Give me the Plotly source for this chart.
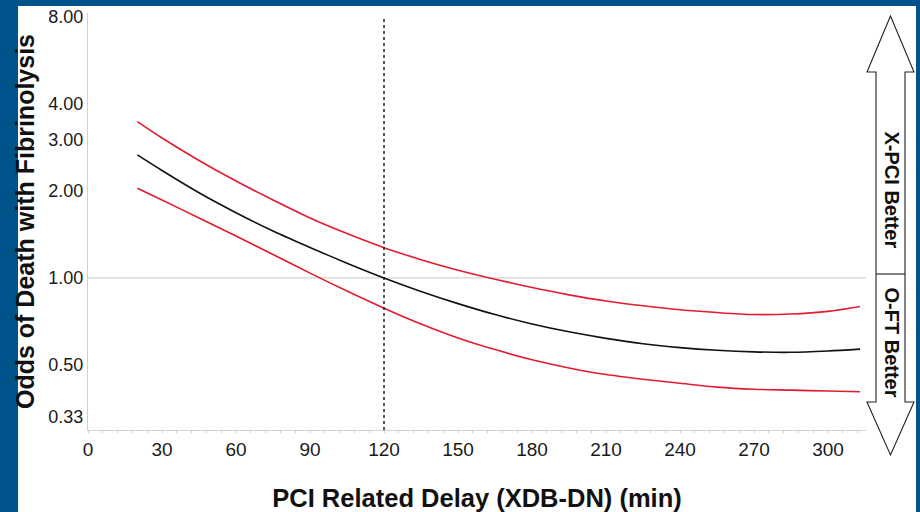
import math
import plotly.graph_objects as go

# ---- data ----
delay_min = [20, 30, 45, 60, 75, 90, 105, 120, 135, 150, 165, 180, 195, 210,
             225, 240, 255, 270, 285, 300, 313]
odds_est = [2.665, 2.354, 1.972, 1.682, 1.454, 1.275, 1.125, 1.00, 0.898, 0.815,
            0.747, 0.693, 0.651, 0.618, 0.592, 0.574, 0.562, 0.555, 0.553,
            0.559, 0.567]
odds_upper = [3.475, 3.05, 2.551, 2.165, 1.86, 1.613, 1.424, 1.273, 1.157, 1.064,
              0.99, 0.927, 0.874, 0.832, 0.801, 0.776, 0.759, 0.747, 0.750,
              0.766, 0.796]
odds_lower = [2.044, 1.86, 1.613, 1.397, 1.206, 1.039, 0.901, 0.786, 0.693, 0.620,
              0.565, 0.521, 0.488, 0.463, 0.446, 0.432, 0.419, 0.412, 0.409,
              0.406, 0.404]
reference_delay = 120
x_ticks = [0, 30, 60, 90, 120, 150, 180, 210, 240, 270, 300]
y_ticks = [0.33, 0.5, 1.0, 2.0, 3.0, 4.0, 8.0]
y_ticklabels = ["0.33", "0.50", "1.00", "2.00", "3.00", "4.00", "8.00"]
x_range = [0, 315.4]
y_range = [0.2977, 8.26]

# ---- layout geometry (pixels) ----
W, H = 920, 512
ML, MR, MT, MB = 88, 54, 13, 82
PW, PH = W - ML - MR, H - MT - MB


def px(x):
    return (x - ML) / PW


def py(y):
    return (H - MB - y) / PH


FONT = "Arial, Liberation Sans, sans-serif"
RED = "#E31B2F"
BLUE = "#00538A"

fig = go.Figure()

# reference line at odds = 1
fig.add_trace(go.Scatter(x=x_range, y=[1, 1], mode="lines",
                         line=dict(color="#d4d4d4", width=1.2),
                         hoverinfo="skip", showlegend=False))

for ys, col in ((odds_upper, RED), (odds_lower, RED), (odds_est, "#111111")):
    fig.add_trace(go.Scatter(x=delay_min, y=ys, mode="lines",
                             line=dict(color=col, width=1.6, shape="spline",
                                       smoothing=0.8),
                             showlegend=False))

shapes = []
# white panel over blue frame
shapes.append(dict(type="rect", xref="paper", yref="paper", layer="below",
                   x0=px(18), x1=px(916), y0=py(6), y1=py(H + 5),
                   fillcolor="white", line=dict(width=0)))
# vertical dashed line at 120 min
shapes.append(dict(type="line", xref="x", yref="paper",
                   x0=reference_delay, x1=reference_delay, y0=0, y1=py(17),
                   line=dict(color="#111111", width=1.4, dash="3px,3px")))

# double-headed arrow on the right
cx = 890.5
hl, hr = 867, 914
sl, sr = 876, 905
top, hb_top, hb_bot, bot = 16, 72, 402, 455
pts = [(cx, top), (hr, hb_top), (sr, hb_top), (sr, hb_bot), (hr, hb_bot),
       (cx, bot), (hl, hb_bot), (sl, hb_bot), (sl, hb_top), (hl, hb_top)]
path = "M " + " L ".join(f"{px(a):.5f},{py(b):.5f}" for a, b in pts) + " Z"
shapes.append(dict(type="path", xref="paper", yref="paper", path=path,
                   fillcolor="white", line=dict(color="#222222", width=1.1)))
shapes.append(dict(type="line", xref="paper", yref="paper",
                   x0=px(sl), x1=px(sr), y0=py(274), y1=py(274),
                   line=dict(color="#222222", width=1.1)))

annotations = [
    dict(text="<b>X-PCI Better</b>", xref="paper", yref="paper",
         x=px(cx + 1), y=py(190), xanchor="center", yanchor="middle",
         textangle=90, showarrow=False,
         font=dict(family=FONT, size=20, color="#111111")),
    dict(text="<b>O-FT Better</b>", xref="paper", yref="paper",
         x=px(cx + 1), y=py(343), xanchor="center", yanchor="middle",
         textangle=90, showarrow=False,
         font=dict(family=FONT, size=20, color="#111111")),
]

fig.update_layout(
    width=W, height=H,
    margin=dict(l=ML, r=MR, t=MT, b=MB, pad=0, autoexpand=False),
    paper_bgcolor=BLUE, plot_bgcolor="white",
    shapes=shapes, annotations=annotations,
    font=dict(family=FONT, color="#1a1a1a"),
    xaxis=dict(range=x_range, tickvals=x_ticks, showgrid=False, zeroline=False,
               automargin=False,
               showline=True, linecolor="#d0d0d0", linewidth=1,
               ticks="", tickfont=dict(size=19, color="#1a1a1a"),
               ticklabelstandoff=2,
               minor=dict(ticks="outside", ticklen=2, dtick=6, tickcolor="#cfcfcf"),
               title=dict(text="<b>PCI Related Delay (XDB-DN) (min)</b>",
                          font=dict(size=25.5, color="#111111"), standoff=31)),
    yaxis=dict(type="log", range=[math.log10(v) for v in y_range],
               automargin=False,
               tickvals=y_ticks, ticktext=y_ticklabels, showgrid=False,
               zeroline=False, showline=True, linecolor="#d0d0d0", linewidth=1,
               ticks="", tickfont=dict(size=18, color="#1a1a1a"),
               title=dict(text="<b>Odds of Death with Fibrinolysis</b>",
                          font=dict(size=25, color="#111111"), standoff=6)),
)

fig.write_html("out.html",
               config={"displayModeBar": False},
               post_script="document.body.style.margin='0';"
                           "document.body.style.overflow='hidden';")
